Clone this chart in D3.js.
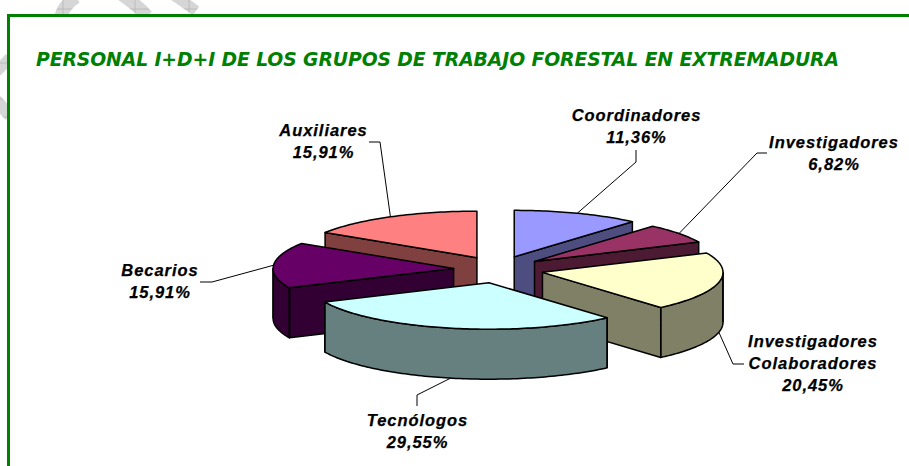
<!DOCTYPE html>
<html>
<head>
<meta charset="utf-8">
<script src="https://cdn.jsdelivr.net/npm/d3@7"></script>
<style>
html,body{margin:0;padding:0;background:#fff;overflow:hidden}
svg{display:block}
</style>
</head>
<body>
<svg id="chart" width="909" height="466"></svg>
<script>
const titleText = "PERSONAL I+D+I DE LOS GRUPOS DE TRABAJO FORESTAL EN EXTREMADURA";
const categories = ["Coordinadores", "Investigadores", "Investigadores\nColaboradores", "Tecnólogos", "Becarios", "Auxiliares"];
const percentages = [11.36, 6.82, 20.45, 29.55, 15.91, 15.91];
const percentLabels = ["11,36%", "6,82%", "20,45%", "29,55%", "15,91%", "15,91%"];
const topColors = ["#9999FF", "#993366", "#FFFFCC", "#CCFFFF", "#660066", "#FF8080"];

// Layout (kept apart from the data)
const W = 909, H = 466;
const green = "#008000";
const cx = 498.5, cy = 269.5, rx = 180.5, ry = 46.5, depth = 50;
const explodeX = 45, explodeY = 13.5;
const drawOrder = [0, 5, 1, 4, 2, 3];
const labelCenter = [[636.5, 121], [834, 148], [813, 347], [417.5, 426], [160, 276], [323.5, 136]];
const leaderKnee = [[[636, 150], [636, 162]], [[767, 153], [757, 153]], [[744, 364], [733, 364]], [[417, 406], [417, 395]], [[200, 282], [212, 282]], [[369, 142], [380, 142]]];

const svg = d3.select("#chart");
const defs = svg.append("defs");
const pat = defs.append("pattern").attr("id", "hatch").attr("patternUnits", "userSpaceOnUse")
  .attr("width", 18).attr("height", 18);
pat.append("rect").attr("width", 18).attr("height", 18).attr("fill", "#d6d6d6");
pat.append("path").attr("d", "M0 9H18M9 0V18").attr("stroke", "#b0b0b0").attr("stroke-width", 0.7);

// Faded watermark strokes visible outside the green frame
const wm = svg.append("g").attr("fill", "none").attr("stroke", "url(#hatch)").attr("stroke-linecap", "butt");
wm.append("path").attr("d", "M61 16C63 9 67 3 76 -3").attr("stroke-width", 13);
wm.append("path").attr("d", "M118 -8C130 0 140 8 147 16").attr("stroke-width", 13);
wm.append("path").attr("d", "M172 -6C180 -1 188 5 196 11").attr("stroke-width", 11);
wm.append("path").attr("d", "M-4 72L10 58").attr("stroke-width", 11);
wm.append("path").attr("d", "M-4 100L10 116").attr("stroke-width", 12);
svg.append("rect").attr("x", 8).attr("y", 15).attr("width", W).attr("height", H).attr("fill", "#fff");
svg.append("path").attr("d", d3.line()([[8.5, H], [8.5, 15.5], [W, 15.5]]))
  .attr("fill", "none").attr("stroke", green).attr("stroke-width", 3);

svg.append("text").attr("x", 36).attr("y", 66).text(titleText)
  .attr("font-family", "'DejaVu Sans'").attr("font-weight", "bold").attr("font-style", "italic")
  .attr("font-size", 18.8).attr("fill", green).attr("textLength", 803).attr("lengthAdjust", "spacing");

const arcs = d3.pie().sort(null).startAngle(0).endAngle(2 * Math.PI)(percentages);

function origin(a) {
  const m = (a.startAngle + a.endAngle) / 2;
  return [cx + explodeX * Math.sin(m), cy - explodeY * Math.cos(m)];
}
function rim(a, t, dz = 0) {
  const [ox, oy] = origin(a);
  return [ox + rx * Math.sin(t), oy - ry * Math.cos(t) + dz];
}
function rimSamples(a, t0, t1, dz = 0) {
  const n = Math.max(2, Math.ceil((t1 - t0) / 0.02));
  return d3.range(n + 1).map(i => rim(a, t0 + (t1 - t0) * i / n, dz));
}
function shade(c) {
  const k = d3.rgb(c);
  return d3.rgb(k.r / 2, k.g / 2, k.b / 2).formatHex();
}
const line = d3.line();
const closed = pts => line(pts) + "Z";
const PI = Math.PI;

const pieG = svg.append("g").attr("stroke", "#000").attr("stroke-width", 1.5).attr("stroke-linejoin", "round");
drawOrder.forEach(i => {
  const a = arcs[i];
  const o = origin(a);
  const g = pieG.append("g");
  const side = shade(topColors[i]);
  const cut = t => {
    const p = rim(a, t);
    g.append("path").attr("fill", side)
      .attr("d", closed([o, p, [p[0], p[1] + depth], [o[0], o[1] + depth]]));
  };
  if (a.startAngle > PI && a.startAngle < 2 * PI) cut(a.startAngle);
  if (a.endAngle > 0 && a.endAngle < PI) cut(a.endAngle);
  const w0 = Math.max(a.startAngle, PI / 2), w1 = Math.min(a.endAngle, 3 * PI / 2);
  if (w1 > w0) {
    g.append("path").attr("fill", side)
      .attr("d", closed([...rimSamples(a, w0, w1), ...rimSamples(a, w0, w1, depth).reverse()]));
    [w0, w1].forEach(t => {
      const p = rim(a, t);
      g.append("path").attr("d", line([p, [p[0], p[1] + depth]]));
    });
  }
  g.append("path").attr("fill", topColors[i])
    .attr("d", closed([o, ...rimSamples(a, a.startAngle, a.endAngle)]));
});

// Leader lines end on the slice rim at each slice's mid-angle
const leaders = svg.append("g").attr("fill", "none").attr("stroke", "#000").attr("stroke-width", 1);
arcs.forEach((a, i) => {
  const m = (a.startAngle + a.endAngle) / 2;
  const onWall = Math.cos(m) < 0;
  const end = rim(a, m, onWall ? depth : 0);
  leaders.append("path").attr("d", line([...leaderKnee[i], end]));
});

const labels = svg.append("g").attr("font-family", "'Liberation Sans'").attr("font-weight", "bold")
  .attr("font-style", "italic").attr("font-size", 16.5).attr("letter-spacing", 0.95)
  .attr("stroke", "#000").attr("stroke-width", 0.25)
  .attr("text-anchor", "middle").attr("fill", "#000");
categories.forEach((c, i) => {
  const lines = [...c.split("\n"), percentLabels[i]];
  lines.forEach((t, j) => {
    labels.append("text").attr("x", labelCenter[i][0]).attr("y", labelCenter[i][1] + j * 22).text(t);
  });
});
</script>
</body>
</html>
